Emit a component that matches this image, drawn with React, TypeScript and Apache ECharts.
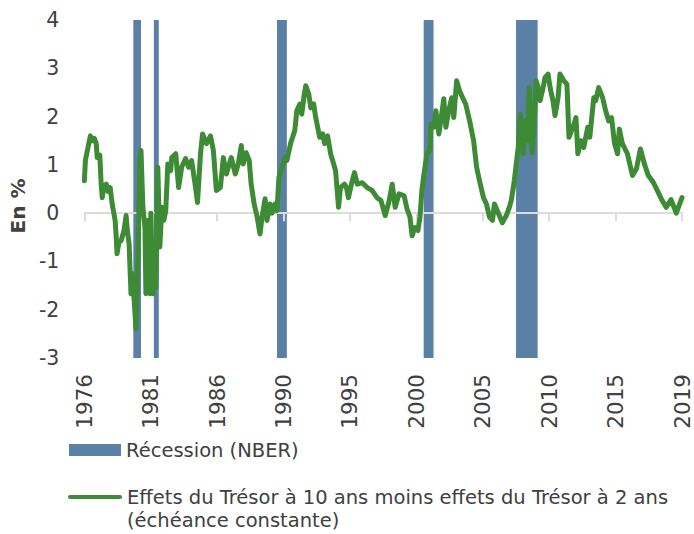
import React, { useEffect, useRef } from "react";
import * as echarts from "echarts";

// ---- Data ----
const tickLabels = ["1976", "1981", "1986", "1990", "1995", "2000", "2005", "2010", "2015", "2019"];

const recessionName = "Récession (NBER)";
const recessionStart = [1980.0, 1981.5, 1990.5, 2001.22, 2007.97];
const recessionEnd = [1980.56, 1981.86, 1991.22, 2001.94, 2009.55];

const spreadName = "Effets du Trésor à 10 ans moins effets du Trésor à 2 ans\n(échéance constante)";
const spreadDates = [
  1976.42, 1976.5, 1976.86, 1977.0, 1977.15, 1977.29, 1977.36, 1977.55, 1977.65, 1977.73,
  1977.85, 1978.02, 1978.15, 1978.31, 1978.45, 1978.67, 1978.75, 1978.81, 1978.95, 1979.11,
  1979.32, 1979.47, 1979.58, 1979.69, 1979.83, 1979.9, 1980.05, 1980.19, 1980.34, 1980.48,
  1980.56, 1980.7, 1980.85, 1980.92, 1981.06, 1981.21, 1981.28, 1981.43, 1981.57, 1981.65,
  1981.79, 1981.94, 1982.08, 1982.23, 1982.37, 1982.52, 1982.73, 1982.81, 1983.1, 1983.31,
  1983.53, 1983.82, 1984.04, 1984.26, 1984.55, 1984.69, 1984.91, 1985.06, 1985.35, 1985.64,
  1985.85, 1986.07, 1986.36, 1986.58, 1986.8, 1986.94, 1987.16, 1987.45, 1987.67, 1987.89,
  1988.03, 1988.25, 1988.47, 1988.61, 1988.83, 1989.05, 1989.26, 1989.41, 1989.63, 1989.77,
  1989.99, 1990.14, 1990.35, 1990.5, 1990.64, 1990.79, 1991.08, 1991.22, 1991.51, 1991.8,
  1991.95, 1992.17, 1992.31, 1992.46, 1992.6, 1992.82, 1992.97, 1993.18, 1993.33, 1993.62,
  1993.84, 1993.98, 1994.2, 1994.42, 1994.64, 1994.78, 1995.0, 1995.14, 1995.43, 1995.58,
  1995.72, 1995.94, 1996.16, 1996.37, 1996.73, 1997.09, 1997.45, 1997.81, 1998.1, 1998.41,
  1998.7, 1998.92, 1999.14, 1999.42, 1999.79, 2000.0, 2000.22, 2000.37, 2000.58, 2000.8,
  2000.95, 2001.09, 2001.24, 2001.46, 2001.67, 2001.75, 2001.96, 2002.11, 2002.33, 2002.47,
  2002.69, 2002.84, 2003.05, 2003.27, 2003.42, 2003.63, 2003.85, 2004.07, 2004.29, 2004.58,
  2004.87, 2005.09, 2005.3, 2005.59, 2005.81, 2006.03, 2006.25, 2006.39, 2006.68, 2006.97,
  2007.26, 2007.48, 2007.62, 2007.77, 2007.84, 2008.13, 2008.28, 2008.5, 2008.64, 2008.79,
  2008.93, 2009.15, 2009.3, 2009.44, 2009.59, 2009.73, 2009.95, 2010.09, 2010.31, 2010.46,
  2010.67, 2010.82, 2011.04, 2011.18, 2011.47, 2011.69, 2011.84, 2012.13, 2012.35, 2012.49,
  2012.71, 2012.92, 2013.21, 2013.36, 2013.65, 2013.79, 2014.01, 2014.3, 2014.52, 2014.74,
  2014.95, 2015.17, 2015.39, 2015.52, 2015.74, 2016.11, 2016.48, 2016.77, 2017.06, 2017.35,
  2017.64, 2018.0, 2018.29, 2018.58, 2018.94, 2019.3, 2019.68, 2020.1,
];
const spreadValues = [
  0.67, 1.1, 1.6, 1.5, 1.55, 1.44, 1.15, 1.2, 0.6, 0.32,
  0.55, 0.6, 0.45, 0.53, 0.2, -0.15, -0.5, -0.84, -0.6, -0.57,
  -0.36, -0.05, -0.4, -0.63, -1.67, -1.25, -1.75, -2.4, -0.84, 1.09,
  1.3, 0.12, -0.3, -1.67, -0.15, -1.67, 0.0, -1.67, -0.7, -1.54,
  0.95, -0.7, 0.12, -0.15, 0.05, 1.02, 0.88, 1.15, 1.23, 0.53,
  0.95, 1.13, 0.95, 1.09, 0.53, 0.22, 1.23, 1.64, 1.44, 1.6,
  1.3, 0.47, 0.53, 1.15, 0.81, 0.95, 1.15, 0.81, 1.02, 1.4,
  1.02, 1.25, 1.09, 0.6, 0.19, -0.08, -0.43, -0.08, 0.3, -0.15,
  0.19, 0.0, 0.19, 0.05, 0.74, 0.88, 1.15, 1.09, 1.46, 1.71,
  2.12, 2.26, 2.05, 2.39, 2.64, 2.47, 2.18, 2.26, 1.98, 1.57,
  1.64, 1.44, 1.6, 1.23, 1.02, 0.88, 0.12, 0.53, 0.6, 0.53,
  0.32, 0.6, 0.84, 0.6, 0.63, 0.53, 0.47, 0.32, 0.26, -0.05,
  0.26, 0.6, 0.12, 0.4, 0.36, 0.09, -0.08, -0.47, -0.3, -0.36,
  -0.08, 0.47, 0.81, 1.23, 1.3, 1.85, 1.78, 2.12, 1.64, 1.91,
  2.37, 1.78, 2.12, 2.39, 1.98, 2.74, 2.53, 2.39, 2.26, 1.91,
  1.5, 0.95, 0.67, 0.32, 0.19, -0.08, -0.15, 0.19, 0.0, -0.2,
  -0.05, 0.12, 0.26, 0.53, 0.67, 1.36, 2.05, 1.23, 1.91, 1.5,
  2.6, 1.25, 1.85, 2.74, 2.6, 2.33, 2.6, 2.81, 2.88, 2.6,
  2.33, 2.02, 2.39, 2.88, 2.74, 2.67, 1.57, 1.78, 1.98, 1.23,
  1.5, 1.36, 1.78, 1.57, 2.39, 2.33, 2.6, 2.39, 2.12, 1.91,
  1.98, 1.44, 1.23, 1.74, 1.44, 1.23, 0.78, 0.92, 1.33, 1.02,
  0.78, 0.64, 0.47, 0.3, 0.12, 0.28, 0.0, 0.32,
];

const X_MIN = 1976.42;
const X_MAX = 2020.1;
const Y_MIN = -3;
const Y_MAX = 4;

const FONT = "DejaVu Sans";
const TEXT = "#404040";
const GREEN = "#3d8b35";
const BLUE = "#5b80a5";
const AXIS = "#dcdcdc";

// legend icon for the line: a bar aligned with the first text line of a two-line label
const LINE_ICON =
  "path://M0,0L0.01,0L0.01,0.01Z M2,9.5L52,9.5A2,2 0 0 1 52,13.5L2,13.5A2,2 0 0 1 2,9.5Z M0,46L0.01,46L0.01,45.99Z";

export default function App() {
  const ref = useRef<HTMLDivElement>(null);

  useEffect(() => {
    if (!ref.current) return;
    const chart = echarts.init(ref.current, null, { renderer: "svg" });

    const n = tickLabels.length - 1;
    const tickPos = tickLabels.map((_, i) =>
      i === n ? X_MAX : X_MIN + (i * (X_MAX - X_MIN)) / n
    );
    const fmt = (v: number) => {
      let best = 0;
      tickPos.forEach((p, i) => {
        if (Math.abs(p - v) < Math.abs(tickPos[best] - v)) best = i;
      });
      return tickLabels[best];
    };

    const recessionData = recessionStart.map((s, i) => [s, recessionEnd[i]]);
    const lineData = spreadDates.map((d, i) => [d, spreadValues[i]]);

    chart.setOption({
      animation: false,
      backgroundColor: "#ffffff",
      textStyle: { fontFamily: FONT },
      grid: { left: 80, right: 12, top: 20, bottom: 176, containLabel: false },
      legend: [
        {
          left: 69,
          top: 440,
          padding: 0,
          itemWidth: 52,
          itemHeight: 12,
          textStyle: { fontFamily: FONT, fontSize: 19.5, color: TEXT },
          data: [{ name: recessionName, icon: "rect", itemStyle: { color: BLUE } }],
        },
        {
          left: 68,
          top: 485.5,
          padding: 0,
          itemWidth: 54,
          itemHeight: 46,
          symbolKeepAspect: false,
          textStyle: { fontFamily: FONT, fontSize: 19.5, color: TEXT, lineHeight: 23 },
          data: [{ name: spreadName, icon: LINE_ICON, itemStyle: { color: GREEN } }],
        },
      ],
      xAxis: [
        {
          type: "value",
          min: X_MIN,
          max: X_MAX,
          position: "bottom",
          z: 3,
          axisLine: { show: true, onZero: true, lineStyle: { color: AXIS, width: 2 } },
          axisTick: {
            show: true,
            length: 8,
            customValues: tickPos,
            lineStyle: { color: AXIS, width: 2 },
          },
          axisLabel: { show: false },
          splitLine: { show: false },
        },
        {
          type: "value",
          min: X_MIN,
          max: X_MAX,
          position: "bottom",
          axisLine: { show: false, onZero: false },
          axisTick: { show: false },
          axisLabel: {
            show: true,
            rotate: 90,
            margin: 16,
            customValues: tickPos,
            formatter: fmt,
            fontFamily: FONT,
            fontSize: 21.5,
            color: TEXT,
          },
          splitLine: { show: false },
        },
      ],
      yAxis: {
        type: "value",
        min: Y_MIN,
        max: Y_MAX,
        interval: 1,
        name: "En %",
        nameLocation: "middle",
        nameRotate: 90,
        nameGap: 41,
        nameTextStyle: {
          fontFamily: FONT,
          fontSize: 20,
          fontWeight: "bold",
          color: TEXT,
          padding: [0, 34, 0, 0],
        },
        axisLine: { show: false },
        axisTick: { show: false },
        splitLine: { show: false },
        axisLabel: { margin: 25, fontFamily: FONT, fontSize: 20.5, color: TEXT },
      },
      series: [
        {
          name: recessionName,
          type: "custom",
          xAxisIndex: 0,
          yAxisIndex: 0,
          z: 1,
          itemStyle: { color: BLUE },
          encode: { x: [0, 1] },
          data: recessionData,
          renderItem: (params: any, api: any) => {
            const a = api.coord([api.value(0), Y_MAX]);
            const b = api.coord([api.value(1), Y_MIN]);
            return {
              type: "rect",
              shape: { x: a[0], y: a[1], width: b[0] - a[0], height: b[1] - a[1] },
              style: { fill: BLUE },
            };
          },
        },
        {
          name: spreadName,
          type: "line",
          xAxisIndex: 0,
          yAxisIndex: 0,
          z: 5,
          showSymbol: false,
          symbol: "none",
          lineStyle: { color: GREEN, width: 5, join: "round", cap: "round" },
          itemStyle: { color: GREEN },
          data: lineData,
        },
      ],
    });

    return () => chart.dispose();
  }, []);

  return (
    <div
      ref={ref}
      style={{ position: "fixed", left: 0, top: 0, width: 694, height: 534, background: "#fff" }}
    />
  );
}
